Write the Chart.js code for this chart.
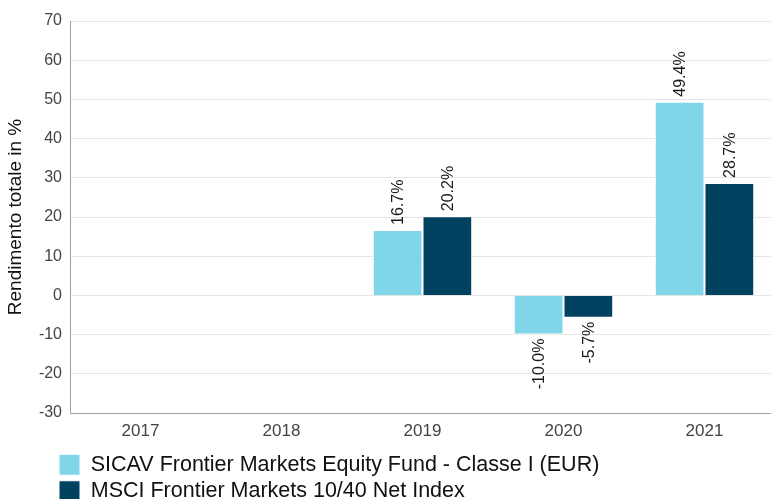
<!DOCTYPE html>
<html>
<head>
<meta charset="utf-8">
<script src="https://cdn.jsdelivr.net/npm/chart.js@4"></script>
<style>
  html, body { margin: 0; padding: 0; background: #fff; overflow: hidden; width: 771px; height: 499px; }
</style>
</head>
<body>
<canvas id="myChart" width="775" height="512"></canvas>
<script>
const years = ['2017', '2018', '2019', '2020', '2021'];
const fundName = 'SICAV Frontier Markets Equity Fund - Classe I (EUR)';
const indexName = 'MSCI Frontier Markets 10/40 Net Index';
const fundValues = [null, null, 16.7, -10.0, 49.4];
const indexValues = [null, null, 20.2, -5.7, 28.7];
const yMin = -30, yMax = 70, yStep = 10;

// values written on the bars, turned 90 degrees
const barLabels = {
    id: 'barLabels',
    afterDatasetsDraw(chart) {
        const ctx = chart.ctx;
        ctx.save();
        ctx.font = '16px "Liberation Sans", Arial, sans-serif';
        ctx.fillStyle = '#1a1a1a';
        ctx.textBaseline = 'middle';
        chart.data.datasets.forEach((ds, i) => {
            const meta = chart.getDatasetMeta(i);
            meta.data.forEach((bar, j) => {
                const v = ds.data[j];
                if (v === null || v === undefined) return;
                const txt = v.toFixed(1) + '%';
                ctx.save();
                if (v >= 0) {
                    ctx.translate(bar.x, bar.y - 5);
                    ctx.rotate(-Math.PI / 2);
                    ctx.textAlign = 'left';
                } else {
                    ctx.translate(bar.x, bar.y + 4);
                    ctx.rotate(-Math.PI / 2);
                    ctx.textAlign = 'right';
                }
                ctx.fillText(txt, 0, 1);
                ctx.restore();
            });
        });
        ctx.restore();
    }
};

// push the legend in line with the reference
const legendShift = {
    id: 'legendShift',
    afterLayout(chart) {
        if (chart.legend) chart.legend.left = 54;
    }
};

let ctx = document.getElementById('myChart').getContext('2d');
let myChart = new Chart(ctx, {
    type: 'bar',
    data: {
        labels: years,
        datasets: [{
            label: fundName,
            data: fundValues,
            backgroundColor: 'rgb(128, 214, 232)',
            borderColor: '#ffffff',
            borderWidth: 1,
            categoryPercentage: 0.705,
            barPercentage: 1
        }, {
            label: indexName,
            data: indexValues,
            backgroundColor: 'rgb(1, 66, 96)',
            borderColor: '#ffffff',
            borderWidth: 1,
            categoryPercentage: 0.705,
            barPercentage: 1
        }]
    },
    options: {
        responsive: false,
        animation: false,
        layout: { padding: { top: 21, right: 0, bottom: 0, left: 0 } },
        scales: {
            x: {
                grid: { color: 'rgba(0,0,0,0)', drawTicks: false },
                border: { display: true, color: '#a0a0a0', width: 1 },
                ticks: {
                    color: '#444',
                    padding: 8,
                    font: { family: '"Liberation Sans", Arial, sans-serif', size: 17 }
                },
                afterFit(scale) { scale.height = 36; }
            },
            y: {
                min: yMin,
                max: yMax,
                ticks: {
                    stepSize: yStep,
                    color: '#444',
                    padding: 8,
                    font: { family: '"Liberation Sans", Arial, sans-serif', size: 16 }
                },
                grid: { color: '#e6e6e6', drawTicks: false },
                border: { display: true, color: '#a0a0a0', width: 1 },
                title: {
                    display: true,
                    text: 'Rendimento totale in %',
                    color: '#111',
                    padding: { top: 4, bottom: 0 },
                    font: { family: '"Liberation Sans", Arial, sans-serif', size: 19 }
                },
                afterFit(scale) { scale.width = 70; }
            }
        },
        plugins: {
            tooltip: { enabled: false },
            legend: {
                position: 'bottom',
                align: 'start',
                labels: {
                    boxWidth: 21,
                    boxHeight: 21,
                    padding: 5,
                    color: '#111',
                    font: { family: '"Liberation Sans", Arial, sans-serif', size: 21.5 }
                }
            }
        }
    },
    plugins: [barLabels, legendShift]
});
</script>
</body>
</html>
